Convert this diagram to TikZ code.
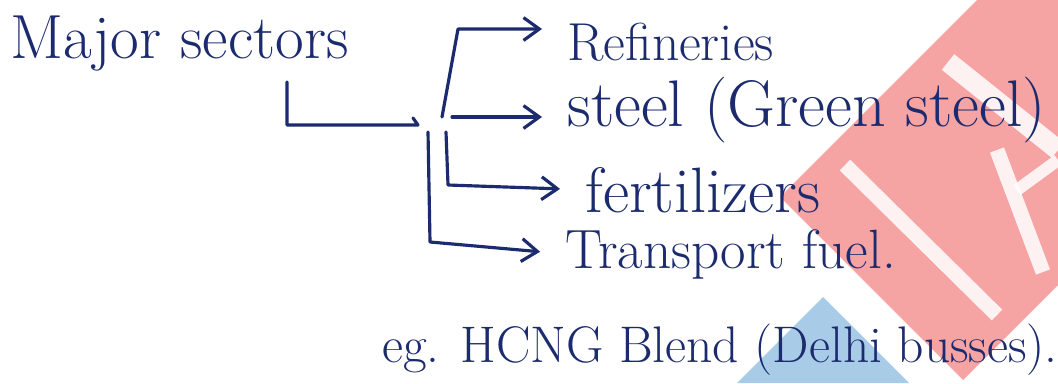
\documentclass[tikz,border=0pt]{standalone}
\usepackage{fontspec}
\usepackage{tikz}
\usetikzlibrary{arrows.meta, positioning, calc}

\definecolor{ink}{HTML}{1C2B6E}
\definecolor{wmred}{HTML}{F5A3A3}
\definecolor{wmblue}{HTML}{A8CCE8}

\newcommand{\hw}[1]{\fontsize{#1}{#1}\selectfont}

\begin{document}
\begin{tikzpicture}[x=0.02cm, y=-0.02cm,
    pen/.style={draw=ink, line width=1.8pt, line cap=round, line join=round},
    arr/.style={pen, -{Straight Barb[length=9pt,width=13pt]}, shorten >=0.5cm},
    lbl/.style={anchor=base west, inner sep=0pt, text=ink}]
  \useasboundingbox (0,0) rectangle (1058,383);
  \fill[white] (0,0) rectangle (1058,383);

  % Watermark
  \fill[wmred] (977,0) -- (780,197) -- (963,380) -- (1058,285) -- (1058,0) -- cycle;
  \fill[wmblue] (823,297) -- (737,383) -- (909,383) -- cycle;
  \draw[white, opacity=0.85, line width=0.3cm] (845,165) -- (997,315);
  \draw[white, opacity=0.85, line width=0.4cm] (948,62) -- (1058,150);
  \draw[white, opacity=0.85, line width=0.3cm] (997,150) -- (1043,272);
  \draw[white, opacity=0.85, line width=0.24cm] (1017,190) -- (1058,160);

  % Labels
  \node[lbl, font=\hw{35.5}] (major) at (10,58) {Major sectors};
  \node[lbl, font=\hw{30.4}] (refin) at (567,60) {Refineries};
  \node[lbl, font=\hw{37.5}] (steel) at (567,126) {steel (Green steel)};
  \node[lbl, font=\hw{36.5}] (fert) at (585,212) {fertilizers};
  \node[lbl, font=\hw{31.5}] (trans) at (565,268) {Transport fuel.};
  \node[lbl, font=\hw{29.3}] (eg) at (382,362) {eg. HCNG Blend (Delhi busses).};

  % Connectors
  \coordinate (drop) at (287,82);
  \coordinate (elbow) at (287,125);
  \coordinate (joint) at (418,125);
  \coordinate (hook) at (413,118);
  \draw[pen] (drop) -- (elbow) -- (joint) -- (hook);

  \coordinate (fork) at (442,117);
  \coordinate (top) at (458,29);
  \draw[arr] (fork) -- (top) -- (top -| refin.west);

  \coordinate (mid) at (452,117);
  \draw[arr] (mid) -- (mid -| steel.west);

  \coordinate (fstart) at (446,132);
  \coordinate (fbend) at (448,185);
  \draw[arr] (fstart) -- (fbend) -- (fert.west);

  \coordinate (tstart) at (428,132);
  \coordinate (tbend) at (430,242);
  \draw[arr] (tstart) -- (tbend) -- (trans.west);
\end{tikzpicture}
\end{document}
